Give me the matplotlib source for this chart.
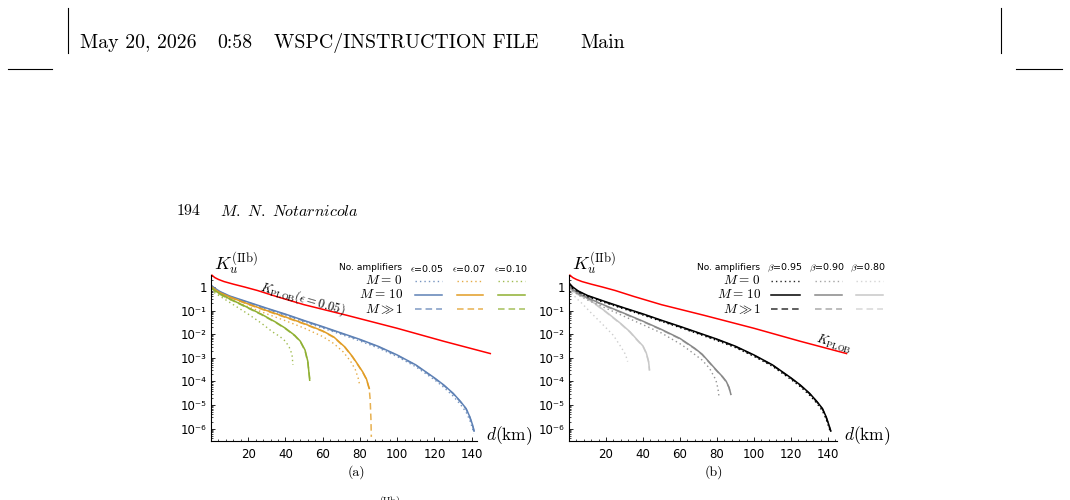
import numpy as np
import matplotlib
matplotlib.use("Agg")
import matplotlib.pyplot as plt
from matplotlib.ticker import FixedLocator, NullFormatter

plt.rcParams['mathtext.fontset'] = 'cm'
plt.rcParams['font.family'] = ['DejaVu Sans']

# ---------------- data (log10 of K) ----------------
d_plob = [0.5, 2, 4, 7, 12, 18, 25, 35, 50, 73, 100, 125, 150]
log_plob = [0.50, 0.40, 0.32, 0.23, 0.12, 0.0, -0.15, -0.40, -0.75, -1.20, -1.75, -2.30, -2.82]

# panel (a): epsilon = 0.05 (blue)
d_e05_m10 = [0, 2, 5, 10, 20, 30, 40, 50, 60, 70, 80, 90, 100, 110, 120, 125, 130, 134, 137, 139, 140.5, 141.3]
k_e05_m10 = [0.08, -0.05, -0.20, -0.38, -0.64, -0.90, -1.15, -1.42, -1.68, -1.95, -2.22, -2.52, -2.88, -3.30, -3.85, -4.15, -4.50, -4.85, -5.15, -5.50, -5.85, -6.10]
d_e05_m0 = [0, 2, 5, 10, 20, 30, 40, 50, 60, 70, 80, 90, 100, 110, 120, 125, 130, 134, 137, 139, 140.5, 141]
k_e05_m0 = [0.00, -0.12, -0.27, -0.44, -0.70, -0.96, -1.21, -1.48, -1.74, -2.01, -2.29, -2.59, -2.95, -3.38, -3.93, -4.25, -4.62, -4.98, -5.30, -5.65, -6.00, -6.20]
d_e05_minf = [0, 2, 5, 10, 20, 30, 40, 50, 60, 70, 80, 90, 100, 110, 120, 125, 130, 134, 137, 139, 140.5, 141.3]
k_e05_minf = [0.06, -0.07, -0.22, -0.40, -0.66, -0.92, -1.17, -1.44, -1.70, -1.97, -2.24, -2.54, -2.90, -3.32, -3.87, -4.17, -4.52, -4.87, -5.17, -5.52, -5.87, -6.12]

# panel (a): epsilon = 0.07 (orange)
d_e07_m10 = [0, 2, 5, 10, 20, 30, 40, 50, 60, 66, 72, 76, 79, 81.5, 83.5, 85]
k_e07_m10 = [0.02, -0.10, -0.25, -0.42, -0.72, -1.00, -1.27, -1.55, -1.86, -2.12, -2.55, -2.95, -3.30, -3.60, -3.90, -4.30]
d_e07_minf = [0, 2, 5, 10, 20, 30, 40, 50, 60, 66, 72, 76, 79, 81.5, 83.5, 85, 85.5, 85.9, 86.1]
k_e07_minf = [0.00, -0.12, -0.27, -0.44, -0.74, -1.02, -1.29, -1.57, -1.88, -2.14, -2.57, -2.97, -3.32, -3.62, -3.92, -4.32, -4.80, -5.60, -6.35]
d_e07_m0 = [0, 2, 5, 10, 20, 30, 40, 50, 60, 66, 71, 75, 77.5, 79, 80]
k_e07_m0 = [-0.05, -0.18, -0.34, -0.52, -0.84, -1.14, -1.43, -1.74, -2.10, -2.40, -2.75, -3.15, -3.50, -3.85, -4.20]

# panel (a): epsilon = 0.10 (green)
d_e10_m10 = [0, 2, 5, 10, 20, 27, 35, 40, 45, 48, 50.5, 52, 53]
k_e10_m10 = [-0.02, -0.15, -0.30, -0.50, -0.88, -1.15, -1.50, -1.75, -2.05, -2.30, -2.67, -3.15, -3.95]
d_e10_minf = [0, 2, 5, 10, 20, 27, 35, 40, 45, 48, 50.5, 52, 53.2]
k_e10_minf = [-0.04, -0.17, -0.32, -0.52, -0.90, -1.17, -1.52, -1.77, -2.07, -2.32, -2.70, -3.20, -4.00]
d_e10_m0 = [0, 2, 5, 9, 15, 20, 27, 33, 37, 40, 42, 43.5, 44]
k_e10_m0 = [-0.10, -0.25, -0.40, -0.60, -0.90, -1.15, -1.53, -1.90, -2.10, -2.30, -2.55, -2.85, -3.30]

# panel (b): beta = 0.95 (black)
d_b95_m10 = [0, 2, 5, 10, 20, 30, 40, 50, 60, 70, 80, 90, 100, 110, 120, 125, 130, 134, 137, 139, 140.5, 141.5]
k_b95_m10 = [0.17, 0.00, -0.17, -0.36, -0.63, -0.89, -1.14, -1.41, -1.67, -1.94, -2.21, -2.51, -2.88, -3.30, -3.85, -4.15, -4.50, -4.85, -5.15, -5.50, -5.85, -6.10]
d_b95_m0 = [0, 2, 5, 10, 20, 30, 40, 50, 60, 70, 80, 90, 100, 110, 120, 125, 130, 134, 137, 139, 140.5, 141.3]
k_b95_m0 = [0.10, -0.06, -0.22, -0.41, -0.68, -0.94, -1.19, -1.46, -1.72, -1.99, -2.27, -2.57, -2.94, -3.36, -3.92, -4.22, -4.58, -4.93, -5.25, -5.60, -5.95, -6.15]
d_b95_minf = d_b95_m10
k_b95_minf = [0.15, -0.02, -0.19, -0.38, -0.65, -0.91, -1.16, -1.43, -1.69, -1.96, -2.23, -2.53, -2.90, -3.32, -3.87, -4.17, -4.52, -4.87, -5.17, -5.52, -5.87, -6.12]

# panel (b): beta = 0.90 (grey)
d_b90_m10 = [0, 2, 5, 10, 20, 30, 40, 50, 60, 68, 72, 76, 80, 83, 85, 86.5, 87.5]
k_b90_m10 = [0.05, -0.10, -0.27, -0.46, -0.80, -1.12, -1.45, -1.80, -2.18, -2.60, -2.85, -3.20, -3.55, -3.80, -4.00, -4.25, -4.55]
d_b90_minf = d_b90_m10
k_b90_minf = [0.03, -0.12, -0.29, -0.48, -0.82, -1.14, -1.47, -1.82, -2.20, -2.62, -2.87, -3.22, -3.57, -3.82, -4.02, -4.27, -4.57]
d_b90_m0 = [0, 2, 5, 10, 20, 30, 40, 50, 55, 61, 67, 72, 76, 79.4, 80.5, 81]
k_b90_m0 = [-0.02, -0.16, -0.34, -0.55, -0.90, -1.25, -1.60, -1.95, -2.18, -2.45, -2.80, -3.10, -3.45, -3.94, -4.30, -4.60]

# panel (b): beta = 0.80 (light grey)
d_b80_m10 = [0, 2, 5, 10, 15, 20, 28, 33, 37, 40, 41.8, 43, 43.5]
k_b80_m10 = [-0.02, -0.17, -0.31, -0.48, -0.76, -1.05, -1.55, -1.90, -2.25, -2.50, -2.80, -3.15, -3.50]
d_b80_minf = d_b80_m10
k_b80_minf = [-0.04, -0.19, -0.33, -0.50, -0.78, -1.07, -1.57, -1.92, -2.27, -2.52, -2.82, -3.18, -3.55]
d_b80_m0 = [0, 2, 4, 6.8, 12, 19.4, 24, 28, 30.5, 31.7]
k_b80_m0 = [-0.10, -0.30, -0.48, -0.68, -1.10, -1.68, -2.05, -2.53, -2.85, -3.16]

x_major = [20, 40, 60, 80, 100, 120, 140]
y_major_exp = [0, -1, -2, -3, -4, -5, -6]
y_labels = ['1', '10⁻¹', '10⁻²', '10⁻³', '10⁻⁴', '10⁻⁵', '10⁻⁶']

# ---------------- figure ----------------
W, H = 1070, 500
fig = plt.figure(figsize=(10.7, 5.0), dpi=100)

def rect(x0, x1, ytop, ybot):
    return [x0 / W, 1 - ybot / H, (x1 - x0) / W, (ybot - ytop) / H]

YTOP, YBOT = 275, 441
ylo, yhi = 10 ** -6.525, 10 ** 0.508

DOT = (0, (1.0, 2.2))
DASH = (0, (4.3, 2.6))

def setup_axes(ax, xmax):
    ax.set_yscale('log')
    ax.set_xlim(0, xmax)
    ax.set_ylim(ylo, yhi)
    ax.set_facecolor('none')
    for s in ['top', 'right']:
        ax.spines[s].set_visible(False)
    for s in ['left', 'bottom']:
        ax.spines[s].set_linewidth(0.8)
    ax.xaxis.set_major_locator(FixedLocator(x_major))
    ax.xaxis.set_minor_locator(FixedLocator([v for v in range(0, int(xmax) + 1, 4) if v % 20 != 0]))
    ax.set_xticklabels([str(v) for v in x_major])
    ax.yaxis.set_major_locator(FixedLocator([10.0 ** e for e in y_major_exp]))
    ax.set_yticklabels(y_labels)
    minors = []
    for e in range(-7, 1):
        for m in range(2, 10):
            v = m * 10.0 ** e
            if ylo < v < yhi:
                minors.append(v)
    ax.yaxis.set_minor_locator(FixedLocator(minors))
    ax.yaxis.set_minor_formatter(NullFormatter())
    ax.tick_params(which='major', direction='in', length=3.2, width=0.6, labelsize=8.5)
    ax.tick_params(which='minor', direction='in', length=1.6, width=0.5)
    ax.tick_params(axis='x', which='major', pad=5)
    ax.tick_params(axis='y', which='major', pad=3)

def P(ax, d, k, **kw):
    ax.plot(d, 10 ** np.array(k), **kw)

# panel (a)
axa = fig.add_axes(rect(211, 477, YTOP, YBOT))
setup_axes(axa, 266 / 1.862)
BLUE, ORANGE, GREEN = '#5E81B5', '#E19C24', '#8FB032'
for col, dm0, km0, dm10, km10, dinf, kinf in [
        (BLUE, d_e05_m0, k_e05_m0, d_e05_m10, k_e05_m10, d_e05_minf, k_e05_minf),
        (ORANGE, d_e07_m0, k_e07_m0, d_e07_m10, k_e07_m10, d_e07_minf, k_e07_minf),
        (GREEN, d_e10_m0, k_e10_m0, d_e10_m10, k_e10_m10, d_e10_minf, k_e10_minf)]:
    P(axa, dm0, km0, color=col, lw=1.0, ls=DOT, alpha=0.85)
    P(axa, dinf, kinf, color=col, lw=1.1, ls=DASH, alpha=0.8)
    P(axa, dm10, km10, color=col, lw=1.1)
P(axa, d_plob, log_plob, color='#FF0000', lw=1.1, clip_on=False)

# panel (b)
axb = fig.add_axes(rect(569, 837, YTOP, YBOT))
setup_axes(axb, 268 / 1.85)
BLACK, GREY, LGREY = '#000000', '#888888', '#c8c8c8'
for col, dm0, km0, dm10, km10, dinf, kinf, a in [
        (LGREY, d_b80_m0, k_b80_m0, d_b80_m10, k_b80_m10, d_b80_minf, k_b80_minf, 0.9),
        (GREY, d_b90_m0, k_b90_m0, d_b90_m10, k_b90_m10, d_b90_minf, k_b90_minf, 0.9),
        (BLACK, d_b95_m0, k_b95_m0, d_b95_m10, k_b95_m10, d_b95_minf, k_b95_minf, 1.0)]:
    P(axb, dm0, km0, color=col, lw=1.0, ls=DOT, alpha=a)
    P(axb, dinf, kinf, color=col, lw=1.1, ls=DASH, alpha=0.8 * a)
    P(axb, dm10, km10, color=col, lw=1.1)
P(axb, d_plob, log_plob, color='#FF0000', lw=1.1, clip_on=False)

# ---------------- page overlay (pixel coordinates) ----------------
ov = fig.add_axes([0, 0, 1, 1], zorder=5)
ov.set_xlim(0, W)
ov.set_ylim(H, 0)
ov.axis('off')

SERIF = 'cmr10'

# page furniture
for x in (68, 1001):
    ov.plot([x, x], [8, 53], color='black', lw=0.8)
ov.plot([8, 52], [69, 69], color='black', lw=0.8)
ov.plot([1016, 1062], [69, 69], color='black', lw=0.8)
hs = 14.3
ov.text(80, 43, 'May 20, 2026', fontsize=hs, family=SERIF, ha='left', va='center')
ov.text(217, 43, '0:58', fontsize=hs, family=SERIF, ha='left', va='center')
ov.text(274, 43, 'WSPC/INSTRUCTION FILE', fontsize=hs, family=SERIF, ha='left', va='center')
ov.text(580, 43, 'Main', fontsize=hs, family=SERIF, ha='left', va='center')
ov.text(177, 211, '194', fontsize=11.5, family=SERIF, ha='left', va='center')
ov.text(220, 211, r'$\mathit{M.\ N.\ Notarnicola}$', fontsize=11.5, ha='left', va='center')

# axis labels
for x0 in (211, 569):
    ov.text(x0 + 25, 264, r'$K_u^{(\mathrm{IIb})}$', fontsize=13, ha='center', va='center')
ov.text(486, 436, r'$d(\mathrm{km})$', fontsize=12.5, ha='left', va='center')
ov.text(844, 436, r'$d(\mathrm{km})$', fontsize=12.5, ha='left', va='center')
ov.text(356, 472, '(a)', fontsize=10, family=SERIF, ha='center', va='center')
ov.text(714, 472, '(b)', fontsize=10, family=SERIF, ha='center', va='center')
ov.text(390, 494, r'$(\mathrm{IIb})$', fontsize=7, ha='center', va='top')

# PLOB labels
ov.text(303, 299, r'$K_{\mathrm{PLOB}}(\epsilon=0.05)$', fontsize=9, rotation=-16,
        ha='center', va='center', rotation_mode='anchor')
ov.text(834, 344, r'$K_{\mathrm{PLOB}}$', fontsize=9, rotation=-17,
        ha='center', va='center', rotation_mode='anchor')

# legends
rows_y = [281, 295, 309]
row_lbl = [r'$M{=}\,0$', r'$M{=}\,10$', r'$M \gg 1$']

def legend(xr, heads, head_x, cols_x, colors, alphas):
    ov.text(xr, 268, 'No. amplifiers', fontsize=6.5, ha='right', va='center')
    for h, hx in zip(heads, head_x):
        ov.text(hx, 268, h, fontsize=6.8, ha='center', va='center')
    for lbl, y in zip(row_lbl, rows_y):
        ov.text(xr + 1, y, lbl, fontsize=9.5, ha='right', va='center')
    for (x0, x1), c, a in zip(cols_x, colors, alphas):
        ov.plot([x0, x1], [rows_y[0]] * 2, color=c, lw=1.0, ls=DOT, alpha=0.85 * a)
        ov.plot([x0, x1], [rows_y[1]] * 2, color=c, lw=1.1)
        ov.plot([x0, x1], [rows_y[2]] * 2, color=c, lw=1.1, ls=DASH, alpha=0.8 * a)

legend(402, [r'$\epsilon$=0.05', r'$\epsilon$=0.07', r'$\epsilon$=0.10'], [427.5, 469, 511],
       [(415, 442), (457, 483), (498, 525)], [BLUE, ORANGE, GREEN], [1, 1, 1])
legend(760, [r'$\beta$=0.95', r'$\beta$=0.90', r'$\beta$=0.80'], [785, 827, 868],
       [(771, 800), (815, 842), (856, 883)], [BLACK, GREY, LGREY], [1, 0.9, 0.9])

fig.savefig('out.png', dpi=100)
